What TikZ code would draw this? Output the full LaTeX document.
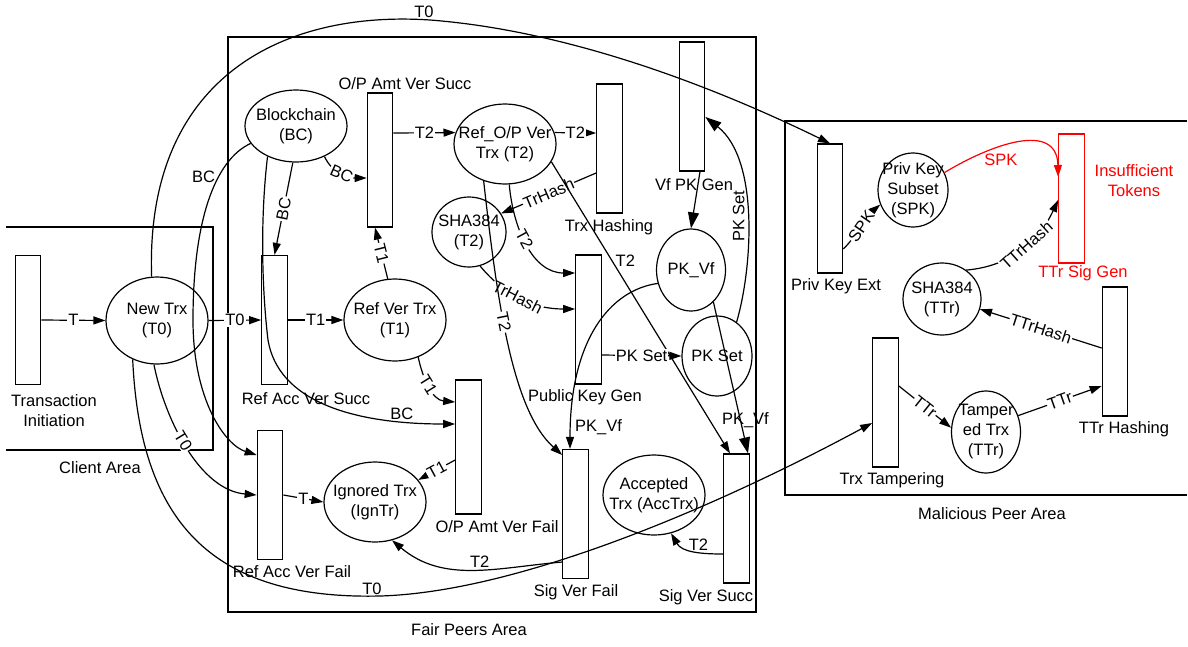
\documentclass[tikz,border=0pt]{standalone}
\usepackage{fontspec}
\setmainfont{Liberation Sans}
\usetikzlibrary{arrows.meta,shapes.geometric}
\tikzset{
  trans/.style={draw, rectangle, minimum width=25.5pt, minimum height=129pt, inner sep=0pt},
  place/.style={draw, ellipse, inner sep=0pt},
  txt/.style={align=center, inner sep=0pt},
  lbl/.style={fill=white, inner sep=1pt},
  arr/.style={-{Triangle[length=12pt,width=8pt]}},
  bigarr/.style={-{Triangle[length=16pt,width=11pt]}},
}
\begin{document}
\begin{tikzpicture}[x=1pt,y=-1pt,line width=1.2pt,font=\fontsize{16.5}{20}\selectfont]
\useasboundingbox (0,0) rectangle (1188,646);
% areas
\draw (6,227) -- (213,227) -- (213,450) -- (6,450);
\draw (228,37) rectangle (756,612);
\draw (1187,121) -- (785,121) -- (785,495) -- (1187,495);
% transitions
\node[trans] (ti) at (28,320) {};
\node[trans] (ravs) at (274.5,320) {};
\node[trans,minimum height=134pt] (oavs) at (380,160) {};
\node[trans] (th) at (609.5,148.5) {};
\node[trans] (vpk) at (692,106.5) {};
\node[trans] (pkg) at (588.5,319.5) {};
\node[trans,minimum height=134pt] (oavf) at (468.5,447) {};
\node[trans] (ravf) at (270,495) {};
\node[trans] (svf) at (575.5,514) {};
\node[trans] (svs) at (736.5,518.5) {};
\node[trans] (pke) at (830,208.5) {};
\node[trans,draw=red] (tsg) at (1071.5,198.5) {};
\node[trans] (tth) at (1115,351.5) {};
\node[trans] (tt) at (885.5,402.5) {};
% places
\node[place,minimum width=102pt,minimum height=87pt] (nt) at (157,320.5) {};
\node[place,minimum width=102pt,minimum height=72pt] (bc) at (296,126) {};
\node[place,minimum width=102pt,minimum height=80pt] (rop) at (505,144) {};
\node[place,minimum width=74pt,minimum height=70pt] (sha2) at (469,232) {};
\node[place,minimum width=69pt,minimum height=82pt] (pkvf) at (691,270) {};
\node[place,minimum width=70pt,minimum height=80pt] (pkset) at (717,356) {};
\node[place,minimum width=102pt,minimum height=82pt] (rvt) at (395,320) {};
\node[place,minimum width=102pt,minimum height=80pt] (ign) at (375,502) {};
\node[place,minimum width=102pt,minimum height=80pt] (acc) at (654,495) {};
\node[place,minimum width=70pt,minimum height=74pt] (spk) at (913,190) {};
\node[place,minimum width=78pt,minimum height=72pt] (shat) at (942,299) {};
\node[place,minimum width=69pt,minimum height=82pt] (tamp) at (986,432) {};
% place texts
\node[txt] (ntT) at (nt) {New Trx\\(T0)};
\node[txt] (bcT) at (bc) {Blockchain\\(BC)};
\node[txt] (ropT) at (rop) {Ref\_O/P Ver\\Trx (T2)};
\node[txt] (sha2T) at (sha2) {SHA384\\(T2)};
\node[txt] (pkvfT) at (pkvf) {PK\_Vf};
\node[txt] (pksetT) at (pkset) {PK Set};
\node[txt] (rvtT) at (rvt) {Ref Ver Trx\\(T1)};
\node[txt] (ignT) at (ign) {Ignored Trx\\(IgnTr)};
\node[txt] (accT) at (acc) {Accepted\\Trx (AccTrx)};
\node[txt] (spkT) at (spk) {Priv Key\\Subset\\(SPK)};
\node[txt] (shatT) at (shat) {SHA384\\(TTr)};
\node[txt] (tampT) at (tamp) {Tamper\\ed Trx\\(TTr)};
% transition labels
\node[txt] (tiL) at (54,411) {Transaction\\Initiation};
\node[txt] (ravsL) at (306,399) {Ref Acc Ver Succ};
\node[txt] (oavsL) at (405,84) {O/P Amt Ver Succ};
\node[txt] (thL) at (609,227) {Trx Hashing};
\node[txt] (vpkL) at (694,185) {Vf PK Gen};
\node[txt] (pkgL) at (585,397) {Public Key Gen};
\node[txt] (oavfL) at (497,527) {O/P Amt Ver Fail};
\node[txt] (ravfL) at (292,572) {Ref Acc Ver Fail};
\node[txt] (svfL) at (576,592) {Sig Ver Fail};
\node[txt] (svsL) at (706,597) {Sig Ver Succ};
\node[txt] (pkeL) at (836,286) {Priv Key Ext};
\node[txt,text=red] (tsgL) at (1083,273) {TTr Sig Gen};
\node[txt,text=red] (insL) at (1134,181) {Insufficient\\Tokens};
\node[txt] (tthL) at (1124,429) {TTr Hashing};
\node[txt] (ttL) at (892,480) {Trx Tampering};
\node[txt] (caL) at (100,468) {Client Area};
\node[txt] (fpL) at (469,630) {Fair Peers Area};
\node[txt] (mpL) at (992,514) {Malicious Peer Area};
% connectors
\draw[arr] (ti.east) -- node[lbl] (l1) {T} (nt.west);
\draw[arr] (nt.east) -- node[lbl] (l2) {T0} (ravs.west);
\draw[arr] (ravs.east) -- node[lbl] (l3) {T1} (rvt.west);
\draw[arr] (rvt.100) -- node[lbl,sloped] (l4) {T1} ([xshift=-5pt]oavs.south);
\draw[arr] (bc.-47) to[out=-65,in=180] node[lbl,sloped] (l5) {BC} ([yshift=-18pt]oavs.west);
\draw[arr] (bc.-95) -- node[lbl,sloped] (l6) {BC} (ravs.north);
\draw[arr] (bc.-133) .. controls (260,220) and (262,290) .. (268,340)
   .. controls (278,400) and (350,424) .. node[pos=0.82,above,inner sep=1pt] (l7) {BC} ([yshift=23pt]oavf.west);
\draw[arr] (bc.-159) .. controls (215,160) and (193,220) .. node[pos=0.35,left,inner sep=3pt] (l8) {BC} (193,320)
   .. controls (193,400) and (225,445) .. ([yshift=40pt]ravf.west);
\draw[arr] (nt.-94) .. controls (165,420) and (200,490) .. node[pos=0.45,lbl,sloped] (l9) {T0} (ravf.west);
\draw[arr] (nt.97) .. controls (145,80) and (280,10) .. (430,20) node[above,inner sep=2pt,xshift=-6pt] (l10) {T0}
   .. controls (560,30) and (700,80) .. (pke.north);
\draw[arr] (nt.-122) .. controls (140,520) and (210,600) .. (380,596) node[above,inner sep=1pt,xshift=-8pt] (l11) {T0}
   .. controls (520,592) and (720,505) .. ([yshift=-20.5pt]tt.west);
\draw[arr] ([yshift=27pt]oavs.east) -- node[lbl] (l12) {T2} (rop.167);
\draw[arr] (rop.13) -- node[lbl] (l13) {T2} ([yshift=15.5pt]th.west);
\draw[arr] ([yshift=-24.5pt]th.west) -- node[lbl,sloped] (l14) {TrHash} (sha2.30);
\draw[arr] (rop.-84) to[out=-85,in=180] node[lbl,sloped,pos=0.45] (l15) {T2} ([yshift=46.5pt]pkg.west);
\draw[arr] (sha2.-72) to[out=-50,in=180] node[lbl,sloped,pos=0.45] (l16) {TrHash} ([yshift=10.5pt]pkg.west);
\draw[arr] (rop.-120) .. controls (497,300) and (512,410) .. node[lbl,sloped,pos=0.42] (l17) {T2} ([yshift=59pt]svf.west);
\draw[arr] (rop.-21) -- node[pos=0.34,right,inner sep=3pt] (l18) {T2} ([xshift=-6.5pt]svs.north);
\draw[bigarr] ([xshift=8pt]vpk.south) -- (pkvf.north);
\draw[bigarr] (pkset.60) .. controls (752,270) and (760,160) .. node[pos=0.5,rotate=90,anchor=south,inner sep=2pt] (l19) {PK Set} ([yshift=-10.5pt]vpk.east);
\draw[arr] ([yshift=-35.5pt]pkg.east) -- node[lbl] (l20) {PK Set} (pkset.west);
\draw[arr] (pkvf.-158) .. controls (610,290) and (570,340) .. node[pos=0.93,right,inner sep=4pt] (l21) {PK\_Vf} ([xshift=-5.5pt]svf.north);
\draw[bigarr] (pkvf.-55) -- node[pos=0.78,xshift=5pt,inner sep=0pt] (l22) {PK\_Vf} ([xshift=11.5pt]svs.north);
\draw[arr] ([yshift=-13pt]oavf.west) -- node[lbl,sloped] (l23) {T1} (ign.27);
\draw[arr] (rvt.-58) to[out=-78,in=175] node[lbl,sloped,pos=0.45] (l24) {T1} ([yshift=45pt]oavf.west);
\draw[arr] (ravf.east) -- node[lbl] (l25) {T} (ign.west);
\draw[arr] ([yshift=-48pt]svf.west) to[out=185,in=-40] node[pos=0.45,above,inner sep=1pt] (l26) {T2} (ign.-66);
\draw[arr] ([yshift=-35.5pt]svs.west) to[out=180,in=-60] node[pos=0.4,above,inner sep=1pt] (l27) {T2} (acc.-66);
% malicious area
\draw[arr] ([yshift=-40.5pt]pke.east) to[out=45,in=-140] node[lbl,sloped] (l28) {SPK} (spk.-156);
\draw[arr,red] (spk.29) .. controls (990,145) and (1057,120) .. node[pos=0.38,yshift=-13pt,inner sep=1pt,text=red] (l29) {SPK} ([yshift=21.5pt]tsg.west);
\draw[arr] (shat.50) to[out=5,in=-115] node[lbl,sloped,pos=0.55] (l30) {TTrHash} ([yshift=-1.5pt]tsg.west);
\draw[arr] ([yshift=3.5pt]tth.west) -- node[lbl,sloped] (l31) {TTrHash} (shat.-15);
\draw[arr] ([yshift=16.5pt]tt.east) -- node[lbl,sloped] (l32) {TTr} (tamp.173);
\draw[arr] (tamp.27) -- node[lbl,sloped] (l33) {TTr} ([yshift=-34.5pt]tth.west);
\end{tikzpicture}
\end{document}
